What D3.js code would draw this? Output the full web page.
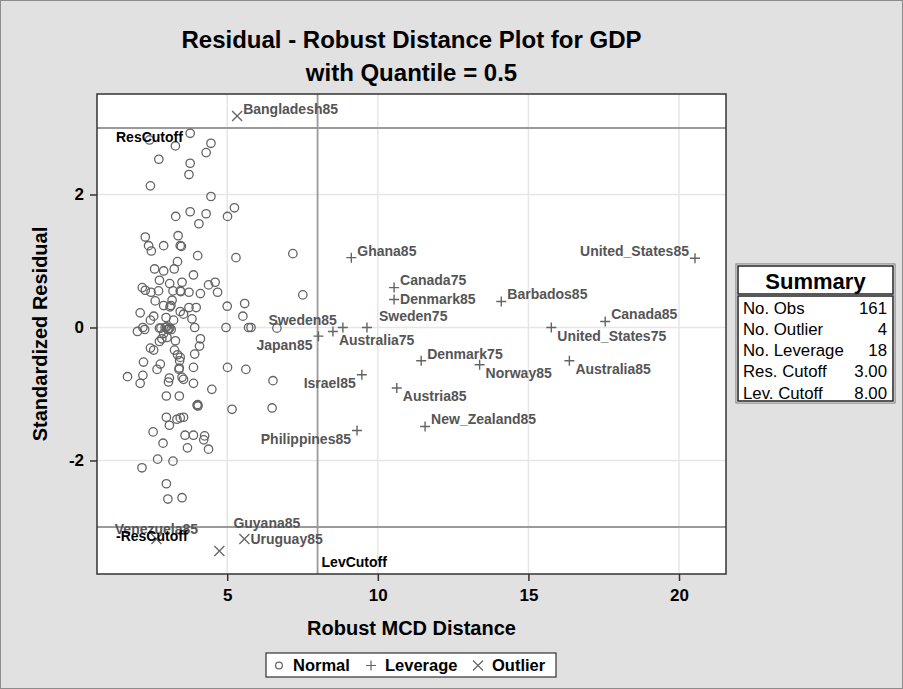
<!DOCTYPE html>
<html>
<head>
<meta charset="utf-8">
<script src="https://cdn.jsdelivr.net/npm/d3@7"></script>
<style>
  body { margin: 0; background: #fff; }
  svg { display: block; }
  text { font-family: "Liberation Sans", Arial, sans-serif; }
</style>
</head>
<body>
<svg width="903" height="689"></svg>
<script>
/* ---- data ---- */
var normalX = [2.42,3.77,3.28,4.46,4.30,2.73,3.77,3.73,2.45,4.46,5.24,5.01,3.29,3.77,4.30,4.06,3.37,2.28,2.39,2.48,
  2.89,3.44,4.02,5.29,3.35,3.24,2.59,2.89,3.88,2.75,3.09,3.50,4.38,4.60,2.18,2.28,2.47,2.72,3.20,3.44,
  3.73,4.11,4.68,2.61,3.17,2.89,3.13,5.00,5.58,3.73,3.97,2.11,2.56,2.97,3.44,3.55,3.83,5.52,2.45,3.22,
  2.02,2.20,2.26,2.75,2.94,3.03,3.09,3.92,4.96,5.71,5.79,6.65,2.89,2.83,3.00,2.75,3.28,4.11,4.08,2.45,
  2.56,3.25,3.35,3.44,3.92,2.22,3.42,2.78,2.67,3.41,3.88,5.01,5.62,1.69,2.20,2.11,3.08,3.05,3.50,3.55,
  3.88,4.49,6.52,2.98,3.41,4.00,4.03,5.16,6.49,2.98,3.33,3.44,3.55,3.08,2.54,3.60,3.88,4.25,4.22,2.87,
  3.68,4.38,2.69,3.20,2.17,2.98,3.03,3.50,7.18,7.51,3.06,2.99,3.46,3.10,4.02,3.40,3.48,2.80,3.14];
var normalY = [2.82,2.92,2.73,2.77,2.63,2.53,2.47,2.30,2.13,1.97,1.80,1.67,1.67,1.74,1.71,1.56,1.38,1.36,1.23,1.15,
  1.23,1.23,1.08,1.05,0.99,0.88,0.88,0.85,0.79,0.71,0.66,0.68,0.64,0.68,0.60,0.56,0.53,0.55,0.55,0.55,
  0.53,0.51,0.53,0.40,0.41,0.33,0.33,0.32,0.36,0.30,0.30,0.22,0.17,0.15,0.24,0.20,0.13,0.17,0.11,0.11,
  -0.06,0.00,-0.03,-0.01,0.00,-0.03,-0.01,0.00,0.00,0.00,0.00,-0.01,-0.09,-0.17,-0.15,-0.21,-0.20,-0.17,-0.28,-0.31,
  -0.34,-0.34,-0.41,-0.45,-0.40,-0.52,-0.50,-0.55,-0.63,-0.61,-0.60,-0.60,-0.63,-0.74,-0.72,-0.84,-0.76,-0.82,-0.75,-0.78,
  -0.84,-0.93,-0.80,-1.03,-1.03,-1.17,-1.18,-1.23,-1.21,-1.35,-1.38,-1.36,-1.35,-1.47,-1.57,-1.62,-1.62,-1.63,-1.69,-1.74,
  -1.81,-1.83,-1.98,-2.01,-2.11,-2.35,-2.58,-2.56,1.11,0.49,-0.02,0.01,0.54,0.31,-1.16,-0.63,1.22,-0.01,-0.03];

var leverageNames = ["Ghana85","Canada75","Denmark85","Barbados85","United_States85","Sweden85","Japan85","Australia75","Sweden75",
  "Canada85","United_States75","Denmark75","Norway85","Australia85","Israel85","Austria85","New_Zealand85","Philippines85"];
var leverageX = [9.12,10.54,10.54,14.10,20.53,8.84,8.03,8.51,9.64,17.55,15.76,11.44,13.38,16.36,9.47,10.63,11.57,9.31];
var leverageY = [1.05,0.60,0.42,0.39,1.04,0.00,-0.13,-0.06,0.00,0.09,0.00,-0.50,-0.56,-0.50,-0.71,-0.91,-1.49,-1.55];

var outlierNames = ["Bangladesh85","Venezuela85","Guyana85","Uruguay85"];
var outlierX = [5.33,2.65,4.74,5.57];
var outlierY = [3.18,-3.18,-3.36,-3.18];

var xTicks = [5,10,15,20];
var yTicks = [-2,0,2];
var resCutoff = 3, levCutoff = 8;

var summaryLabels = ["No. Obs","No. Outlier","No. Leverage","Res. Cutoff","Lev. Cutoff"];
var summaryValues = ["161","4","18","3.00","8.00"];
var legendLabels = ["Normal","Leverage","Outlier"];

/* ---- label placement around each marker ---- */
var place = {
  ne: [6,-7,"start"], e: [6,0,"start"], se: [6,8.5,"start"],
  nw: [-6,-7.5,"end"], sw: [-6,8.5,"end"], n: [0,-10,"middle"]
};
var labelAt = {
  Bangladesh85:"ne", Ghana85:"ne", Canada75:"ne", Denmark85:"e", Barbados85:"ne", United_States85:"nw",
  Sweden85:"nw", Japan85:"sw", Australia75:"se", Sweden75:[12,-11,"start"], Canada85:"ne", United_States75:"se",
  Denmark75:"ne", Norway85:"se", Australia85:"se", Israel85:"sw", Austria85:"se", New_Zealand85:"ne",
  Philippines85:"sw", Venezuela85:"n", Guyana85:[14,-28,"start"], Uruguay85:"e"
};

/* ---- svg set up ---- */
var svg = d3.select("svg");
var W = 903, H = 689;
var pL = 97, pR = 726, pT = 94, pB = 574;   // plot frame

svg.append("rect").attr("x",0.5).attr("y",0.5).attr("width",W-1).attr("height",H-1)
  .attr("fill","#e1e1e1").attr("stroke","#8c8c8c");

var x = d3.scaleLinear().domain([0.677,21.56]).range([pL,pR]);
var y = d3.scaleLinear().domain([-3.707,3.511]).range([pB,pT]);

svg.append("rect").attr("x",pL).attr("y",pT).attr("width",pR-pL).attr("height",pB-pT)
  .attr("fill","#fff");

// grid
svg.append("g").selectAll("line").data(xTicks).enter().append("line")
  .attr("x1",d => x(d)).attr("x2",d => x(d)).attr("y1",pT).attr("y2",pB)
  .attr("stroke","#e6e6e6").attr("stroke-width",1.5);
svg.append("g").selectAll("line").data(yTicks).enter().append("line")
  .attr("y1",d => y(d)).attr("y2",d => y(d)).attr("x1",pL).attr("x2",pR)
  .attr("stroke","#e6e6e6").attr("stroke-width",1.5);

// cutoff lines
[resCutoff,-resCutoff].forEach(function(v){
  svg.append("line").attr("x1",pL).attr("x2",pR).attr("y1",y(v)).attr("y2",y(v))
    .attr("stroke","#9a9a9a").attr("stroke-width",1.8);
});
svg.append("line").attr("x1",x(levCutoff)).attr("x2",x(levCutoff)).attr("y1",pT).attr("y2",pB)
  .attr("stroke","#9a9a9a").attr("stroke-width",1.8);

// markers
var markerColor = "#646464";
var normals = normalX.map((v,i) => ({x:v, y:normalY[i]}));
svg.append("g").selectAll("circle").data(normals).enter().append("circle")
  .attr("cx",d => x(d.x)).attr("cy",d => y(d.y)).attr("r",4.2)
  .attr("fill","none").attr("stroke",markerColor).attr("stroke-width",1.3);

var plusPath = "M-5,0H5M0,-5V5", crossPath = "M-5,-5L5,5M-5,5L5,-5";
var levs = leverageNames.map((n,i) => ({name:n, x:leverageX[i], y:leverageY[i]}));
var outs = outlierNames.map((n,i) => ({name:n, x:outlierX[i], y:outlierY[i]}));

svg.append("g").selectAll("path").data(levs).enter().append("path")
  .attr("transform",d => "translate(" + x(d.x) + "," + y(d.y) + ")")
  .attr("d",plusPath).attr("stroke",markerColor).attr("stroke-width",1.4).attr("fill","none");
svg.append("g").selectAll("path").data(outs).enter().append("path")
  .attr("transform",d => "translate(" + x(d.x) + "," + y(d.y) + ")")
  .attr("d",crossPath).attr("stroke",markerColor).attr("stroke-width",1.3).attr("fill","none");

// point labels
svg.append("g").selectAll("text").data(levs.concat(outs)).enter().append("text")
  .each(function(d){
    var p = labelAt[d.name];
    if (typeof p === "string") p = place[p];
    d3.select(this).attr("x",x(d.x)+p[0]).attr("y",y(d.y)+p[1]).attr("text-anchor",p[2]);
  })
  .attr("dy","0.35em").attr("font-size",14).attr("font-weight","bold").attr("fill","#555")
  .text(d => d.name);

// cutoff labels
svg.append("text").attr("x",pL+19).attr("y",y(resCutoff)+9).attr("dy","0.35em")
  .attr("font-size",14).attr("font-weight","bold").attr("fill","#000").text("ResCutoff");
svg.append("text").attr("x",pL+19).attr("y",y(-resCutoff)+9).attr("dy","0.35em")
  .attr("font-size",14).attr("font-weight","bold").attr("fill","#000").text("-ResCutoff");
svg.append("text").attr("x",x(levCutoff)+4).attr("y",pB-12).attr("dy","0.35em")
  .attr("font-size",14).attr("font-weight","bold").attr("fill","#000").text("LevCutoff");

// frame
svg.append("rect").attr("x",pL).attr("y",pT).attr("width",pR-pL).attr("height",pB-pT)
  .attr("fill","none").attr("stroke","#333").attr("stroke-width",1.5);

// axes
var xAxis = svg.append("g").attr("transform","translate(0," + pB + ")")
  .call(d3.axisBottom(x).tickValues(xTicks).tickFormat(d => String(d))
    .tickSize(7).tickPadding(8).tickSizeOuter(0));
var yAxis = svg.append("g").attr("transform","translate(" + pL + ",0)")
  .call(d3.axisLeft(y).tickValues(yTicks).tickFormat(d => String(d))
    .tickSize(7).tickPadding(6).tickSizeOuter(0));
[xAxis,yAxis].forEach(function(a){
  a.select(".domain").remove();
  a.selectAll(".tick line").attr("stroke","#333").attr("stroke-width",1.5);
  a.selectAll(".tick text").attr("font-size",17).attr("font-weight","bold").attr("fill","#000")
    .attr("font-family","'Liberation Sans', Arial, sans-serif");
});

// titles
svg.append("text").attr("x",(pL+pR)/2).attr("y",40).attr("dy","0.35em").attr("text-anchor","middle")
  .attr("font-size",24).attr("font-weight","bold").text("Residual - Robust Distance Plot for GDP");
svg.append("text").attr("x",(pL+pR)/2).attr("y",73).attr("dy","0.35em").attr("text-anchor","middle")
  .attr("font-size",24).attr("font-weight","bold").text("with Quantile = 0.5");
svg.append("text").attr("x",(pL+pR)/2).attr("y",628).attr("dy","0.35em").attr("text-anchor","middle")
  .attr("font-size",20).attr("font-weight","bold").text("Robust MCD Distance");
svg.append("text").attr("transform","translate(40," + (pT+pB)/2 + ") rotate(-90)")
  .attr("dy","0.35em").attr("text-anchor","middle")
  .attr("font-size",20).attr("font-weight","bold").text("Standardized Residual");

// summary table
var sx = 736, sy = 264, sw = 159, sh = 139;
var tbl = svg.append("g");
tbl.append("rect").attr("x",sx).attr("y",sy).attr("width",sw).attr("height",sh)
  .attr("fill","#fff").attr("stroke","#777").attr("stroke-width",1);
tbl.append("rect").attr("x",sx+2).attr("y",sy+2).attr("width",sw-4).attr("height",28)
  .attr("fill","#fff").attr("stroke","#222").attr("stroke-width",1.5);
tbl.append("rect").attr("x",sx+2).attr("y",sy+32).attr("width",sw-4).attr("height",sh-34)
  .attr("fill","#fff").attr("stroke","#222").attr("stroke-width",1.5);
tbl.append("text").attr("x",sx+sw/2).attr("y",sy+17).attr("dy","0.35em").attr("text-anchor","middle")
  .attr("font-size",22).attr("font-weight","bold").text("Summary");
summaryLabels.forEach(function(l,i){
  var ry = sy + 44 + i*21.2;
  tbl.append("text").attr("x",sx+7).attr("y",ry).attr("dy","0.35em").attr("font-size",16.8).text(l);
  tbl.append("text").attr("x",sx+sw-8).attr("y",ry).attr("dy","0.35em").attr("text-anchor","end")
    .attr("font-size",16.8).text(summaryValues[i]);
});

// legend
var lg = svg.append("g");
lg.append("rect").attr("x",266).attr("y",653).attr("width",290).attr("height",24)
  .attr("fill","#fff").attr("stroke","#333").attr("stroke-width",1.2);
var legX = [279,371,478];
legendLabels.forEach(function(l,i){
  var cx = legX[i], cy = 665.5;
  if (i === 0) lg.append("circle").attr("cx",cx).attr("cy",cy).attr("r",3.4)
    .attr("fill","none").attr("stroke",markerColor).attr("stroke-width",1.2);
  else lg.append("path").attr("transform","translate(" + cx + "," + cy + ")")
    .attr("d", i === 1 ? plusPath : crossPath).attr("stroke",markerColor).attr("stroke-width",1.2);
  lg.append("text").attr("x",cx+14).attr("y",cy).attr("dy","0.35em")
    .attr("font-size",16.5).attr("font-weight","bold").text(l);
});
</script>
</body>
</html>
